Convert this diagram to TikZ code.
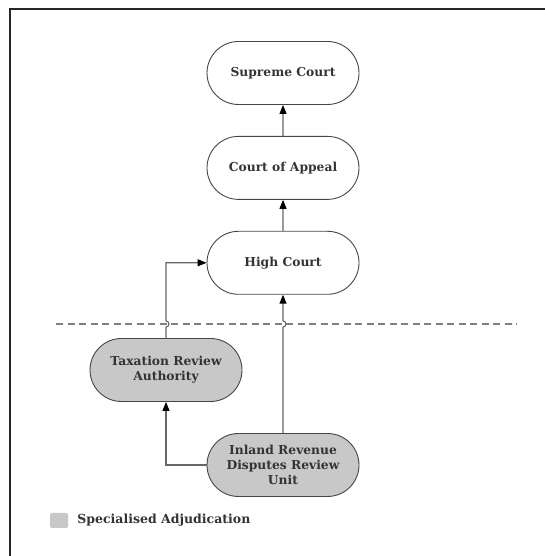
\documentclass[tikz,border=0pt]{standalone}
\usepackage{fontspec}
\setmainfont{DejaVu Serif}
\usetikzlibrary{shapes.misc}
\usetikzlibrary{arrows.meta}
\usetikzlibrary{positioning}
\definecolor{specgrey}{RGB}{200,200,200}
\definecolor{edgegrey}{RGB}{70,70,70}
\tikzset{court/.style={ rounded rectangle, draw=edgegrey, line width=0.9pt,
            minimum width=156pt, minimum height=63pt, inner sep=2pt,
            align=center, font=\fontsize{12.3}{15}\selectfont\bfseries, text=black!80 },
         special/.style={ court, fill=specgrey },
         conn/.style={ draw=black!60, line width=1.1pt,
            -{Triangle[width=7pt,length=9pt,fill=black,color=black]} }}
\begin{document}
\begin{tikzpicture}[x=1pt,y=1pt]
\useasboundingbox (0,0) rectangle (545,556);
% frame
\draw[line width=1.6pt, black!85] (10,0) -- (10,547) -- (545,547);
% general courts
\node[court] (supreme) at (283,483) {Supreme Court};
\node[court, below=31pt of supreme] (appeal) {Court of Appeal};
\node[court, below=31pt of appeal] (high) {High Court};
% jurisdiction line
\coordinate (dashl) at (56,232);
\coordinate (dashr) at (517,232);
\draw[black!50, line width=1.4pt, dash pattern=on 7pt off 4.5pt] (dashl) -- (dashr);
% specialised bodies
\node[special] (tra) at (166,186) {Taxation Review\\Authority};
\node[special] (ird) at (283,91) {Inland Revenue\\Disputes Review\\Unit};
% appeals
\draw[conn] (appeal) -- (supreme);
\draw[conn] (high) -- (appeal);
\draw[conn] (ird.north) -- ([yshift=-3pt]ird.north |- dashl)
    arc[start angle=-90, end angle=90, radius=3pt] -- (high.south);
\draw[conn] (tra.north) -- ([yshift=-3pt]tra.north |- dashl)
    arc[start angle=-90, end angle=90, radius=3pt] |- (high.west);
\draw[conn] (ird.west) -| (tra.south);
% legend
\node[draw=none, fill=specgrey, rounded corners=2pt, minimum width=18pt,
      minimum height=15pt, inner sep=0pt] (key) at (59,35.5) {};
\node[right=9pt of key.east, anchor=west, inner sep=0pt,
      font=\fontsize{12.5}{15}\selectfont\bfseries, text=black!80] (keytext) {Specialised Adjudication};
\end{tikzpicture}
\end{document}
